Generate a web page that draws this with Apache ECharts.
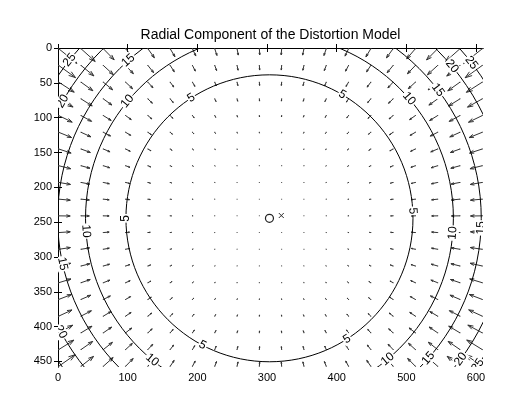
<!DOCTYPE html>
<html><head><meta charset="utf-8">
<script src="https://cdn.jsdelivr.net/npm/echarts@6/dist/echarts.min.js"></script>
<style>html,body{margin:0;padding:0;background:#fff}#c{width:518px;height:394px}</style>
</head><body><div id="c"></div>
<script>
// ---- data ----
const gridX = [1,33,65,97,129,161,193,225,257,289,321,353,385,417,449,481,513,545,577,609];
const gridY = [1,25,49,73,97,121,145,169,193,217,241,265,289,313,337,361,385,409,433,457];
const principalPoint = [303.5, 244.5];
const imageCenter = [320.5, 240.5];
const contourLevels = [5, 10, 15, 20, 25];
const contourRadii = [206, 264, 304, 341, 366];
const xTicks = [0, 100, 200, 300, 400, 500, 600];
const yTicks = [0, 50, 100, 150, 200, 250, 300, 350, 400, 450];
const titleText = 'Radial Component of the Distortion Model';

// ---- label placement (angles on each contour, screen degrees) ----
const labelAngles = {
  5: [-123, -59.5, 180, -3, 117.8, 57.3],
  10: [-140.5, -40.6, 176, 4.6, 129.6, 50],
  15: [-131.8, -37.3, 167.6, 2.6, 41.4],
  20: [-150.5, -39.8, 151.4, 36.4],
  25: [-141.6, -37.6, 35.2]
};

// radial shift magnitude from the contour table (radius -> level)
function radialShift(r) {
  const R3 = [0].concat(contourRadii.map(v => v * v * v));
  const L = [0].concat(contourLevels);
  const q = r * r * r;
  for (let i = 1; i < R3.length; i++) {
    if (q <= R3[i] || i === R3.length - 1) {
      const t = (q - R3[i - 1]) / (R3[i] - R3[i - 1]);
      return L[i - 1] + t * (L[i] - L[i - 1]);
    }
  }
}

// quiver vectors (pointing toward the principal point)
const raw = [];
gridY.forEach(y => gridX.forEach(x => {
  const dx = x - principalPoint[0], dy = y - principalPoint[1];
  const r = Math.hypot(dx, dy);
  const d = radialShift(r);
  raw.push([x, y, -dx / r * d, -dy / r * d]);
}));
// MATLAB-style autoscale
const delx = (gridX[gridX.length - 1] - gridX[0]) / gridX.length;
const dely = (gridY[gridY.length - 1] - gridY[0]) / gridY.length;
const del = Math.sqrt(delx * delx + dely * dely);
const maxlen = Math.max(...raw.map(a => Math.hypot(a[2], a[3]) / del));
const s = 0.9 / maxlen;
const arrows = raw.map(a => [a[0], a[1], a[2] * s, a[3] * s]);

const contours = contourLevels.map((l, i) => [principalPoint[0], principalPoint[1], contourRadii[i], l]);
const labels = [];
contourLevels.forEach((l, i) => (labelAngles[l] || []).forEach(t => labels.push([principalPoint[0], principalPoint[1], contourRadii[i], l, t])));

const FONT = 'Liberation Sans, Arial, sans-serif';
const chart = echarts.init(document.getElementById('c'), null, {renderer: 'canvas'});

function mkAxis(pos, max, ticks, showLabel, margin) {
  return {
    type: 'value', position: pos, min: 0, max: max, interval: 50,
    inverse: (pos === 'left' || pos === 'right'),
    splitLine: {show: false},
    axisLine: {show: true, lineStyle: {color: '#000', width: 1}},
    axisTick: {show: true, inside: true, length: 4, customValues: ticks, lineStyle: {color: '#000'}},
    axisLabel: {show: showLabel, customValues: ticks, color: '#000', fontFamily: FONT, fontSize: 11, margin: margin}
  };
}

chart.setOption({
  animation: false,
  backgroundColor: '#fff',
  graphic: [{type: 'text', x: 270.5, y: 35, style: {text: titleText, fontFamily: FONT, fontSize: 14, fill: '#000', align: 'center', verticalAlign: 'middle'}}],
  grid: {left: 58, top: 48, right: 35, bottom: 27},
  xAxis: [mkAxis('bottom', 610, xTicks, true, 5), mkAxis('top', 610, xTicks, false, 5)],
  yAxis: [mkAxis('left', 458, yTicks, true, 6), mkAxis('right', 458, yTicks, false, 6)],
  series: [
    {
      type: 'custom', name: 'quiver', clip: true, data: arrows,
      renderItem(params, api) {
        const x = api.value(0), y = api.value(1), u = api.value(2), v = api.value(3);
        const a = 0.33, b = 0.33;
        const p0 = api.coord([x, y]), p1 = api.coord([x + u, y + v]);
        const h1 = api.coord([x + u - a * (u + b * v), y + v - a * (v - b * u)]);
        const h2 = api.coord([x + u - a * (u - b * v), y + v - a * (v + b * u)]);
        const col = '#333';
        return {type: 'group', children: [
          {type: 'rect', shape: {x: p0[0] - 0.5, y: p0[1] - 0.5, width: 1, height: 1}, style: {fill: '#555'}},
          {type: 'line', shape: {x1: p0[0], y1: p0[1], x2: p1[0], y2: p1[1]}, style: {stroke: col, lineWidth: 1}},
          {type: 'polyline', shape: {points: [h1, p1, h2]}, style: {stroke: col, fill: null, lineWidth: 1}}
        ]};
      }
    },
    {
      type: 'custom', name: 'contours', clip: true, data: contours,
      renderItem(params, api) {
        const c = api.coord([api.value(0), api.value(1)]);
        const r = api.value(2);
        const sz = api.size([r, r]);
        return {type: 'ellipse', shape: {cx: c[0], cy: c[1], rx: Math.abs(sz[0]), ry: Math.abs(sz[1])},
          style: {stroke: '#000', fill: null, lineWidth: 1}};
      }
    },
    {
      type: 'custom', name: 'contourLabels', clip: true, data: labels,
      renderItem(params, api) {
        const cx = api.value(0), cy = api.value(1), r = api.value(2), lev = api.value(3), th = api.value(4) * Math.PI / 180;
        const p = api.coord([cx + r * Math.cos(th), cy + r * Math.sin(th)]);
        let rho = -(api.value(4) + 90);
        while (rho > 90) rho -= 180;
        while (rho <= -90) rho += 180;
        return {type: 'text', x: p[0], y: p[1], rotation: rho * Math.PI / 180,
          style: {text: String(lev), fontFamily: FONT, fontSize: 12, fill: '#000', align: 'center', verticalAlign: 'middle',
            backgroundColor: '#fff', padding: [0, 1]}};
      }
    },
    {
      type: 'custom', name: 'markers', data: [[principalPoint[0], principalPoint[1], 0], [imageCenter[0], imageCenter[1], 1]],
      renderItem(params, api) {
        const p = api.coord([api.value(0), api.value(1)]);
        if (api.value(2) === 0) {
          return {type: 'circle', shape: {cx: p[0], cy: p[1], r: 4}, style: {stroke: '#222', fill: null, lineWidth: 1.2}};
        }
        const h = 2.5;
        return {type: 'group', children: [
          {type: 'line', shape: {x1: p[0] - h, y1: p[1] - h, x2: p[0] + h, y2: p[1] + h}, style: {stroke: '#333', lineWidth: 1}},
          {type: 'line', shape: {x1: p[0] - h, y1: p[1] + h, x2: p[0] + h, y2: p[1] - h}, style: {stroke: '#333', lineWidth: 1}}
        ]};
      }
    }
  ]
});
</script>
</body></html>
